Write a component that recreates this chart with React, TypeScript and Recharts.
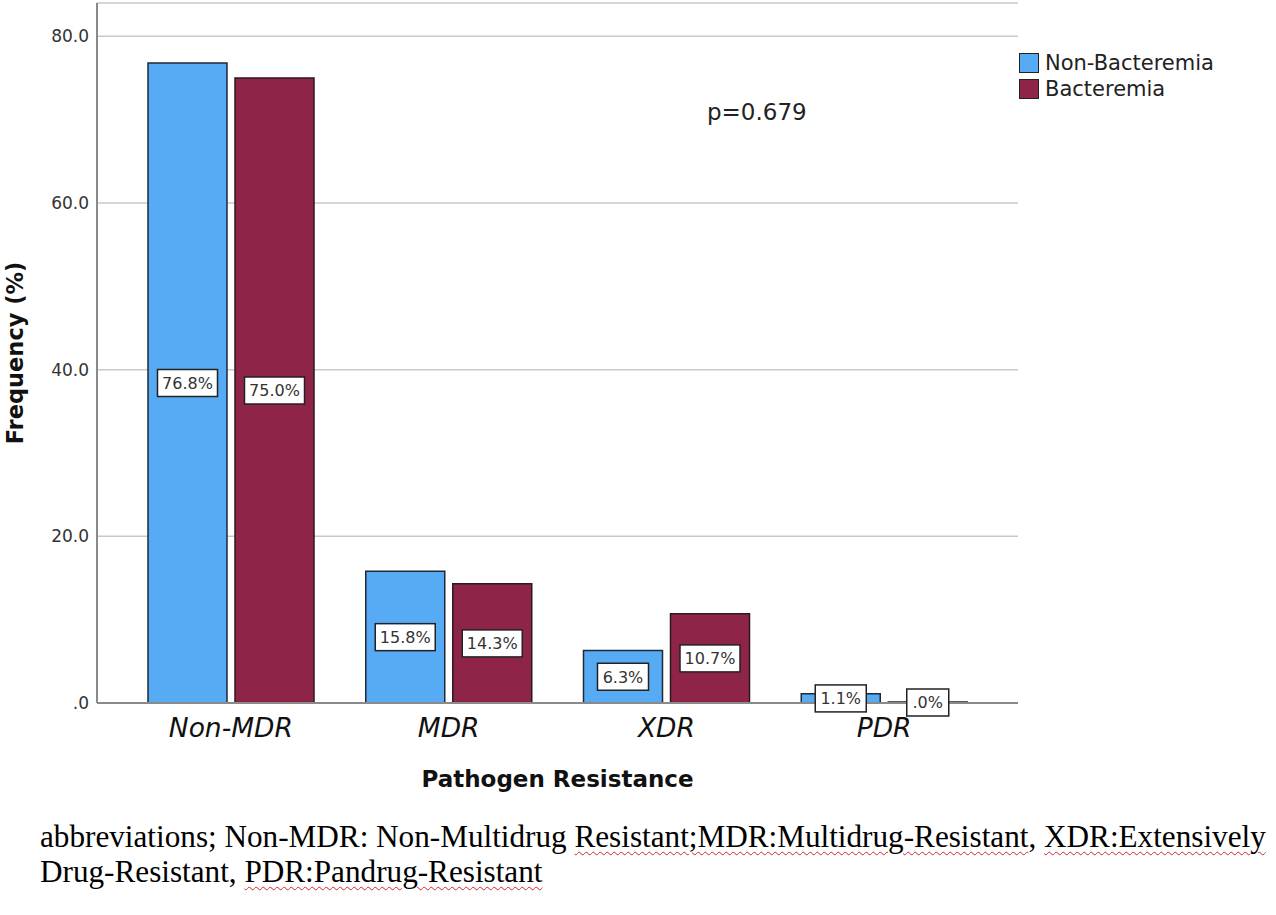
import React from 'react';
import { BarChart, Bar, XAxis, YAxis, CartesianGrid, Legend, LabelList } from 'recharts';

const categories = ['Non-MDR', 'MDR', 'XDR', 'PDR'];
const nonBacteremia = [76.8, 15.8, 6.3, 1.1];
const bacteremia = [75.0, 14.3, 10.7, 0.0];
const yTicks = [0, 20, 40, 60, 80];
const seriesNames = ['Non-Bacteremia', 'Bacteremia'];
const seriesColors = ['#56abf4', '#8f2449'];

const data = categories.map((category, i) => ({
  category,
  nonBacteremia: nonBacteremia[i],
  bacteremia: bacteremia[i],
}));

const fmtPct = (v: number) => (v === 0 ? '.0%' : `${v.toFixed(1)}%`);

const BoxLabel = (props: any) => {
  const { x, y, width, height, value } = props;
  const text = fmtPct(Number(value));
  const w = text.length * 9 + 15;
  const h = 27;
  const cx = x + width / 2;
  const cy = y + height / 2;
  return (
    <g>
      <rect x={cx - w / 2} y={cy - h / 2} width={w} height={h} fill="#ffffff" stroke="#222" strokeWidth={1.5} />
      <text x={cx} y={cy} dy="0.36em" textAnchor="middle" fontSize={16} fill="#333">
        {text}
      </text>
    </g>
  );
};

const CategoryTick = (props: any) => {
  const { x, y, payload } = props;
  return (
    <text x={x} y={y + 26} textAnchor="middle" fontSize={26.5} fontStyle="italic" fill="#111">
      {payload.value}
    </text>
  );
};

const LegendBox = () => (
  <div style={{ fontFamily: 'DejaVu Sans', fontSize: 21, color: '#222' }}>
    {seriesNames.map((name, i) => (
      <div key={name} style={{ display: 'flex', alignItems: 'center', height: 26 }}>
        <div
          style={{
            width: 18,
            height: 18,
            background: seriesColors[i],
            border: '1.5px solid #222',
            marginRight: 6,
          }}
        />
        <span>{name}</span>
      </div>
    ))}
  </div>
);

const wavy: React.CSSProperties = {
  textDecoration: 'underline wavy #d0262b',
  textDecorationThickness: 1,
  textUnderlineOffset: 4,
};

export default function App() {
  return (
    <div style={{ position: 'absolute', left: 0, top: 0, width: 1276, height: 915, background: '#fff' }}>
      <BarChart
        width={1276}
        height={800}
        data={data}
        margin={{ top: 3, right: 258, bottom: 0, left: 0 }}
        barCategoryGap={26}
        barGap={8}
        style={{ fontFamily: 'DejaVu Sans' }}
      >
        <CartesianGrid vertical={false} stroke="#c9c9c9" strokeWidth={1.5} />
        <XAxis
          dataKey="category"
          height={97}
          padding={{ left: 25, right: 25 }}
          axisLine={{ stroke: '#8a8a8a', strokeWidth: 2 }}
          tickLine={false}
          tick={<CategoryTick />}
          label={{
            content: (p: any) => (
              <text
                x={p.viewBox.x + p.viewBox.width / 2}
                y={787}
                textAnchor="middle"
                fontSize={23}
                fontWeight="bold"
                fill="#111"
              >
                Pathogen Resistance
              </text>
            ),
          }}
        />
        <YAxis
          width={97}
          domain={[0, 84]}
          ticks={yTicks}
          axisLine={{ stroke: '#8a8a8a', strokeWidth: 2 }}
          tickLine={false}
          tickFormatter={(v: number) => (v === 0 ? '.0' : v.toFixed(1))}
          tick={{ fontSize: 17, fill: '#333' }}
          label={{
            value: 'Frequency (%)',
            angle: -90,
            position: 'insideLeft',
            offset: 15,
            style: { fontSize: 22.5, fontWeight: 'bold', fill: '#111', textAnchor: 'middle' },
          }}
        />
        <Legend
          layout="vertical"
          align="center"
          verticalAlign="middle"
          content={<LegendBox />}
          wrapperStyle={{ left: 1019, top: 50, width: 'auto', height: 'auto' }}
        />
        <Bar
          dataKey="nonBacteremia"
          name={seriesNames[0]}
          fill={seriesColors[0]}
          stroke="#1e2a35"
          strokeWidth={1.5}
          isAnimationActive={false}
        >
          <LabelList dataKey="nonBacteremia" position="center" content={<BoxLabel />} />
        </Bar>
        <Bar
          dataKey="bacteremia"
          name={seriesNames[1]}
          fill={seriesColors[1]}
          stroke="#2a1a1f"
          strokeWidth={1.5}
          minPointSize={1}
          isAnimationActive={false}
        >
          <LabelList dataKey="bacteremia" position="center" content={<BoxLabel />} />
        </Bar>
      </BarChart>
      <div
        style={{
          position: 'absolute',
          left: 707,
          top: 99,
          fontFamily: 'DejaVu Sans',
          fontSize: 23,
          color: '#222',
        }}
      >
        p=0.679
      </div>
      <div
        style={{
          position: 'absolute',
          left: 40,
          top: 819,
          fontFamily: 'Liberation Serif',
          fontSize: 31.2,
          lineHeight: '35px',
          color: '#000',
          whiteSpace: 'nowrap',
        }}
      >
        abbreviations; Non-MDR: Non-Multidrug <span style={wavy}>Resistant;MDR:Multidrug-Resistant</span>,{' '}
        <span style={wavy}>XDR:Extensively</span>
        <br />
        Drug-Resistant, <span style={wavy}>PDR:Pandrug-Resistant</span>
      </div>
    </div>
  );
}
